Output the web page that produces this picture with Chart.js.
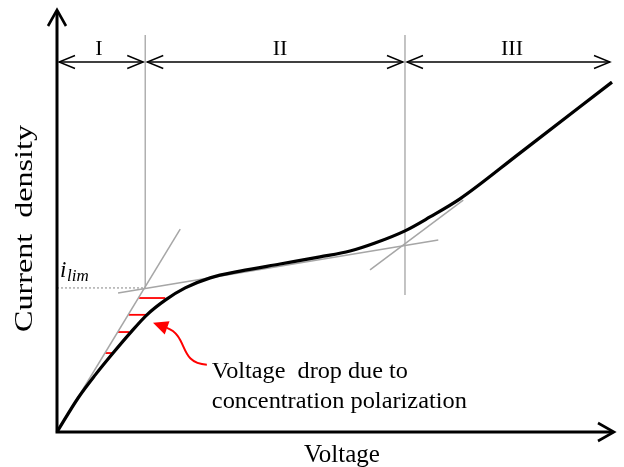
<!DOCTYPE html>
<html>
<head>
<meta charset="utf-8">
<script src="https://cdn.jsdelivr.net/npm/chart.js@4"></script>
<style>
  html, body { margin: 0; padding: 0; background: #fff; }
  canvas { display: block; }
</style>
</head>
<body>
<canvas id="myChart" width="624" height="467"></canvas>
<script>
// polarization curve (arbitrary units)
const voltage = [0, 0.38, 0.69, 1.01, 1.32, 1.62, 1.95, 2.31, 2.76, 3.30, 4.02, 4.74, 5.28, 5.73, 6.27, 6.72, 7.26, 8.34, 10];
const current = [0, 0.81, 1.36, 1.88, 2.36, 2.79, 3.14, 3.43, 3.67, 3.83, 4.0, 4.17, 4.31, 4.5, 4.79, 5.12, 5.55, 6.64, 8.33];

// tangent construction lines
const tangentOhmic = { x: [0, 2.22], y: [0, 4.83] };
const tangentPlateau = { x: [1.10, 6.87], y: [3.31, 4.57] };
const tangentOver = { x: [5.64, 7.32], y: [3.86, 5.52] };

const iLim = 3.43;
const regionEdges = [0, 1.59, 6.27, 10];
const regionLabels = ["I", "II", "III"];
const regionTop = 9.45;
const regionArrowY = 8.81;

// red "voltage drop" segments: y, x on the tangent, x on the curve
const dropY = [3.19, 2.79, 2.38, 1.88];
const dropFrom = [1.48, 1.29, 1.10, 0.87];
const dropTo = [1.95, 1.62, 1.30, 1.01];

const pts = (xs, ys) => xs.map((x, i) => ({ x: x, y: ys[i] }));

const datasets = [
  {
    label: "curve",
    data: pts(voltage, current),
    borderColor: "#000",
    borderWidth: 3.2,
    cubicInterpolationMode: "monotone",
    order: 0,
  },
  { data: pts(tangentOhmic.x, tangentOhmic.y), borderColor: "#a6a6a6", borderWidth: 1.5, order: 1 },
  { data: pts(tangentPlateau.x, tangentPlateau.y), borderColor: "#a6a6a6", borderWidth: 1.5, order: 1 },
  { data: pts(tangentOver.x, tangentOver.y), borderColor: "#a6a6a6", borderWidth: 1.5, order: 1 },
  { data: [{ x: regionEdges[1], y: iLim }, { x: regionEdges[1], y: regionTop }], borderColor: "#b0b0b0", borderWidth: 1.5, order: 1 },
  { data: [{ x: regionEdges[2], y: 3.26 }, { x: regionEdges[2], y: regionTop }], borderColor: "#b0b0b0", borderWidth: 1.5, order: 1 },
  { data: [{ x: 0, y: iLim }, { x: regionEdges[1], y: iLim }], borderColor: "#999", borderWidth: 1.2, borderDash: [2, 2], order: 1 },
];
dropY.forEach((y, i) => {
  datasets.push({ data: [{ x: dropFrom[i], y: y }, { x: dropTo[i], y: y }], borderColor: "#ff0000", borderWidth: 1.8, order: 1 });
});
datasets.forEach((d) => {
  d.showLine = true;
  d.pointRadius = 0;
  d.clip = false;
});

function chevron(ctx, tx, ty, dx, dy, len, half) {
  // open arrow head with tip at (tx,ty) pointing along (dx,dy)
  const n = Math.hypot(dx, dy);
  const ux = dx / n, uy = dy / n;
  ctx.beginPath();
  ctx.moveTo(tx - ux * len - uy * half, ty - uy * len + ux * half);
  ctx.lineTo(tx, ty);
  ctx.lineTo(tx - ux * len + uy * half, ty - uy * len - ux * half);
  ctx.stroke();
}

const decorations = {
  id: "decorations",
  afterDraw(chart) {
    const ctx = chart.ctx;
    const xs = chart.scales.x, ys = chart.scales.y;
    const px = (v) => xs.getPixelForValue(v);
    const py = (v) => ys.getPixelForValue(v);
    const x0 = px(0), y0 = py(0);
    ctx.save();
    ctx.lineCap = "butt";

    // axes
    ctx.strokeStyle = "#000";
    ctx.lineWidth = 3;
    ctx.beginPath();
    ctx.moveTo(x0, y0 + 1.5);
    ctx.lineTo(x0, 11);
    ctx.moveTo(x0 - 1.5, y0);
    ctx.lineTo(px(10) + 1, y0);
    ctx.stroke();
    ctx.lineWidth = 2.6;
    chevron(ctx, x0, 10, 0, -1, 16, 9);
    chevron(ctx, px(10) + 2, y0, 1, 0, 16, 9);

    // region arrows
    ctx.lineWidth = 1.4;
    const ay = py(regionArrowY);
    for (let i = 0; i < 3; i++) {
      const a = px(regionEdges[i]) + 2;
      const b = px(regionEdges[i + 1]) - 2;
      ctx.beginPath();
      ctx.moveTo(a, ay);
      ctx.lineTo(b, ay);
      ctx.stroke();
      chevron(ctx, a, ay, -1, 0, 16, 6.5);
      chevron(ctx, b, ay, 1, 0, 16, 6.5);
    }
    ctx.fillStyle = "#000";
    ctx.font = "22px 'Liberation Serif'";
    ctx.textAlign = "center";
    ctx.textBaseline = "alphabetic";
    const labelCenters = [99, 280, 512];
    regionLabels.forEach((t, i) => {
      ctx.fillText(t, labelCenters[i], 55);
    });

    // i_lim label
    ctx.textAlign = "left";
    ctx.font = "italic 23px 'Liberation Serif'";
    ctx.fillText("i", 60, 277);
    ctx.font = "italic 17px 'Liberation Serif'";
    ctx.fillText("lim", 67, 281);

    // axis titles
    ctx.font = "25px 'Liberation Serif'";
    ctx.textAlign = "center";
    ctx.fillText("Voltage", 342, 462);
    ctx.save();
    ctx.translate(32, 228.5);
    ctx.rotate(-Math.PI / 2);
    const yt = "Current  density";
    const w = ctx.measureText(yt).width;
    ctx.scale(207 / w, 1);
    ctx.fillText(yt, 0, 0);
    ctx.restore();

    // annotation
    ctx.textAlign = "left";
    ctx.font = "23px 'Liberation Serif'";
    const l1 = "Voltage  drop due to";
    const l2 = "concentration polarization";
    ctx.save();
    ctx.translate(px(2.79), py(1.29));
    ctx.scale(196 / ctx.measureText(l1).width, 1);
    ctx.fillText(l1, 0, 0);
    ctx.restore();
    ctx.save();
    ctx.translate(px(2.79), py(0.57));
    ctx.scale(255 / ctx.measureText(l2).width, 1);
    ctx.fillText(l2, 0, 0);
    ctx.restore();

    // red curved arrow
    ctx.strokeStyle = "#ff0000";
    ctx.fillStyle = "#ff0000";
    ctx.lineWidth = 2;
    const s = [px(2.70), py(1.60)];
    const c1 = [px(2.18), py(1.64)];
    const c2 = [px(2.38), py(2.28)];
    const e = [px(1.98), py(2.48)];
    const tip = [px(1.73), py(2.60)];
    ctx.beginPath();
    ctx.moveTo(s[0], s[1]);
    ctx.bezierCurveTo(c1[0], c1[1], c2[0], c2[1], e[0], e[1]);
    ctx.stroke();
    const dx = tip[0] - e[0], dy = tip[1] - e[1];
    const n = Math.hypot(dx, dy);
    const ux = dx / n, uy = dy / n;
    const bx = tip[0] - ux * 15, by = tip[1] - uy * 15;
    ctx.beginPath();
    ctx.moveTo(tip[0], tip[1]);
    ctx.lineTo(bx - uy * 7, by + ux * 7);
    ctx.lineTo(bx + uy * 7, by - ux * 7);
    ctx.closePath();
    ctx.fill();

    ctx.restore();
  },
};

new Chart(document.getElementById("myChart"), {
  type: "scatter",
  data: { datasets: datasets },
  options: {
    responsive: false,
    animation: false,
    layout: { padding: { left: 57, right: 12, top: 12, bottom: 35 } },
    scales: {
      x: { type: "linear", min: 0, max: 10, display: false },
      y: { type: "linear", min: 0, max: 10, display: false },
    },
    plugins: {
      legend: { display: false },
      tooltip: { enabled: false },
    },
  },
  plugins: [decorations],
});
</script>
</body>
</html>
